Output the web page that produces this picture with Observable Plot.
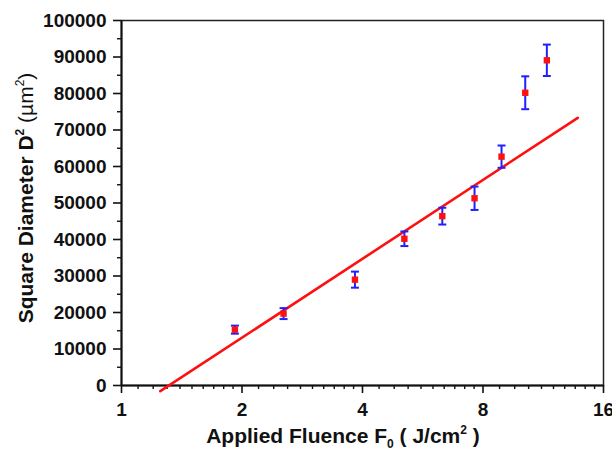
<!DOCTYPE html>
<html>
<head>
<meta charset="utf-8">
<script src="https://cdn.jsdelivr.net/npm/d3@7"></script>
<script src="https://cdn.jsdelivr.net/npm/@observablehq/plot@0.6"></script>
<style>
  html, body { margin: 0; padding: 0; background: #fff; }
  #chart svg { display: block; }
</style>
</head>
<body>
<div id="chart"></div>
<script>
// Data
const fluence = [1.92, 2.54, 3.83, 5.09, 6.33, 7.62, 8.90, 10.2, 11.55];
const diam2   = [15300, 19700, 29000, 40200, 46400, 51300, 62700, 80200, 89100];
const err     = [1100, 1500, 2200, 2000, 2300, 3200, 3050, 4500, 4300];

// Fitted line end points
const fitF = [1.25, 13.8];
const fitD = [-1560, 73340];

const xTicks = [1, 2, 4, 8, 16];
const xMinor = [1.1,1.2,1.3,1.4,1.5,1.6,1.7,1.8,1.9,
                2.2,2.4,2.6,2.8,3.0,3.2,3.4,3.6,3.8,
                4.4,4.8,5.2,5.6,6.0,6.4,6.8,7.2,7.6,
                8.8,9.6,10.4,11.2,12.0,12.8,13.6,14.4,15.2];
const yTicks = [0,10000,20000,30000,40000,50000,60000,70000,80000,90000,100000];
const yMinor = [5000,15000,25000,35000,45000,55000,65000,75000,85000,95000];

const points = fluence.map((f, i) => ({f, d: diam2[i], lo: diam2[i] - err[i], hi: diam2[i] + err[i]}));
const fit = fitF.map((f, i) => ({f, d: fitD[i]}));

const capSymbol = {
  draw(ctx, size) {
    const r = Math.sqrt(size) / 2;
    ctx.moveTo(-r, 0);
    ctx.lineTo(r, 0);
  }
};

const font = "'Liberation Sans', Arial, sans-serif";

const chart = Plot.plot({
  width: 612,
  height: 451,
  marginLeft: 121,
  marginRight: 9,
  marginTop: 20,
  marginBottom: 66,
  style: {fontFamily: font, fontSize: "19px", fontWeight: "bold", color: "#111", background: "#fff"},
  x: {type: "log", base: 2, domain: [1, 16]},
  y: {domain: [0, 100000]},
  marks: [
    Plot.frame({stroke: "#222", strokeWidth: 1.5}),
    Plot.ruleX([1], {stroke: "#111", strokeWidth: 2}),
    Plot.ruleY([0], {stroke: "#111", strokeWidth: 2}),
    Plot.axisX({ticks: xTicks, tickSize: 8, tickPadding: 9, tickFormat: d => String(d), label: null, strokeWidth: 1.6, stroke: "#111"}),
    Plot.axisX({ticks: xMinor, tickSize: 4, tickFormat: () => "", label: null, strokeWidth: 1.4, stroke: "#111"}),
    Plot.axisY({ticks: yTicks, tickSize: 8, tickPadding: 7, tickFormat: d => String(d), label: null, strokeWidth: 1.6, stroke: "#111"}),
    Plot.axisY({ticks: yMinor, tickSize: 4, tickFormat: () => "", label: null, strokeWidth: 1.4, stroke: "#111"}),
    Plot.line(fit, {x: "f", y: "d", stroke: "#ff1010", strokeWidth: 2.6}),
    Plot.ruleX(points, {x: "f", y1: "lo", y2: "hi", stroke: "#2020ff", strokeWidth: 2}),
    Plot.dot(points, {x: "f", y: "lo", symbol: capSymbol, r: 4.5, stroke: "#2020ff", strokeWidth: 2}),
    Plot.dot(points, {x: "f", y: "hi", symbol: capSymbol, r: 4.5, stroke: "#2020ff", strokeWidth: 2}),
    Plot.dot(points, {x: "f", y: "d", symbol: "square", r: 3.6, fill: "#ff1010", stroke: "none"})
  ]
});

const svg = d3.select(chart);

// X axis label with subscript and superscript
const xl = svg.append("text")
  .attr("x", 343).attr("y", 443)
  .attr("text-anchor", "middle")
  .attr("font-family", font).attr("font-size", 21).attr("font-weight", "bold").attr("fill", "#111");
xl.append("tspan").text("Applied Fluence F");
xl.append("tspan").attr("font-size", 12).attr("dy", 5).text("0");
xl.append("tspan").attr("dy", -5).text(" ( J/cm");
xl.append("tspan").attr("font-size", 12).attr("dy", -9).text("2");
xl.append("tspan").attr("dy", 9).text(" )");

// Y axis label
const yl = svg.append("text")
  .attr("transform", "translate(33,198) rotate(-90)")
  .attr("text-anchor", "middle")
  .attr("font-family", font).attr("font-size", 21).attr("fill", "#111");
yl.append("tspan").attr("font-weight", "bold").text("Square Diameter D");
yl.append("tspan").attr("font-weight", "bold").attr("font-size", 12).attr("dy", -9).text("2");
yl.append("tspan").attr("font-weight", "normal").attr("dy", 9).text(" (µm");
yl.append("tspan").attr("font-weight", "normal").attr("font-size", 12).attr("dy", -9).text("2");
yl.append("tspan").attr("font-weight", "normal").attr("dy", 9).text(")");

document.getElementById("chart").appendChild(chart);
</script>
</body>
</html>
